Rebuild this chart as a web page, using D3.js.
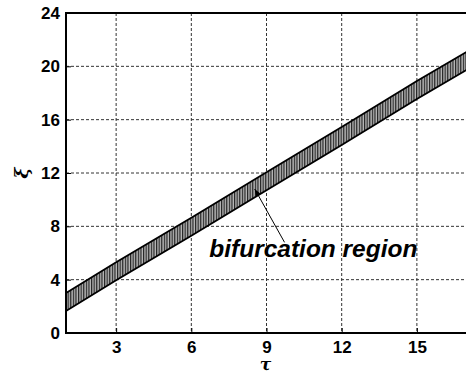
<!DOCTYPE html>
<html><head><meta charset="utf-8">
<script src="https://cdn.jsdelivr.net/npm/d3@7"></script>
<style>body{margin:0;background:#fff}svg{display:block}</style>
</head><body>
<script>
const tau = [1, 3, 6, 9, 12, 15, 17];
const upper = [3.0, 5.3, 8.65, 12.05, 15.45, 18.9, 21.1];
const lower = [1.65, 3.95, 7.3, 10.7, 14.1, 17.55, 19.75];
const xTicks = [3, 6, 9, 12, 15];
const yTicks = [0, 4, 8, 12, 16, 20, 24];
const labelText = "bifurcation region";
const labelPos = [6.72, 5.7];
const arrowTail = [9.72, 6.8];
const arrowTip = [8.53, 10.8];

const W = 466, H = 375;
const svg = d3.select("body").append("svg").attr("width", W).attr("height", H);
const x = d3.scaleLinear().domain([1, 17]).range([66, 467]);
const y = d3.scaleLinear().domain([0, 24]).range([333, 13]);

const defs = svg.append("defs");
const pat = defs.append("pattern").attr("id", "hatch").attr("patternUnits", "userSpaceOnUse")
  .attr("width", 2.6).attr("height", 10);
pat.append("rect").attr("width", 2.6).attr("height", 10).attr("fill", "#b8b8b8");
pat.append("line").attr("x1", 0.6).attr("x2", 0.6).attr("y1", 0).attr("y2", 10)
  .attr("stroke", "#222").attr("stroke-width", 1.2);
defs.append("clipPath").attr("id", "clip").append("rect")
  .attr("x", 66).attr("y", 13).attr("width", 401).attr("height", 320);

// grid
const g = svg.append("g");
g.selectAll(".vg").data(xTicks).join("line")
  .attr("x1", d => x(d)).attr("x2", d => x(d)).attr("y1", y(24)).attr("y2", y(0))
  .attr("stroke", "#333").attr("stroke-width", 1).attr("stroke-dasharray", "3,2");
g.selectAll(".hg").data(yTicks.filter(d => d > 0 && d < 24)).join("line")
  .attr("x1", x(1)).attr("x2", W).attr("y1", d => y(d)).attr("y2", d => y(d))
  .attr("stroke", "#333").attr("stroke-width", 1).attr("stroke-dasharray", "3,2");

// band
const pts = tau.map((t, i) => ({t, u: upper[i], l: lower[i]}));
const area = d3.area().x(d => x(d.t)).y0(d => y(d.l)).y1(d => y(d.u));
const band = svg.append("g").attr("clip-path", "url(#clip)");
band.append("path").datum(pts).attr("d", area).attr("fill", "url(#hatch)");
band.append("path").datum(pts).attr("d", d3.line().x(d => x(d.t)).y(d => y(d.u)))
  .attr("fill", "none").attr("stroke", "#000").attr("stroke-width", 1.8);
band.append("path").datum(pts).attr("d", d3.line().x(d => x(d.t)).y(d => y(d.l)))
  .attr("fill", "none").attr("stroke", "#000").attr("stroke-width", 1.8);

// axes
const xAxis = d3.axisBottom(x).tickValues(xTicks).tickSize(-5).tickPadding(8);
const yAxis = d3.axisLeft(y).tickValues(yTicks).tickSize(-5).tickPadding(6);
const xa = svg.append("g").attr("transform", `translate(0,${y(0)})`).call(xAxis);
const ya = svg.append("g").attr("transform", `translate(${x(1)},0)`).call(yAxis);
[xa, ya].forEach(a => {
  a.select(".domain").remove();
  a.selectAll(".tick line").attr("stroke", "#000").attr("stroke-width", 1);
  a.selectAll("text").attr("font-family", "Liberation Sans, Arial, sans-serif")
    .attr("font-size", 17).attr("font-weight", "bold").attr("fill", "#000");
});
svg.append("line").attr("x1", x(1)).attr("x2", W).attr("y1", y(0)).attr("y2", y(0)).attr("stroke", "#000").attr("stroke-width", 2);
svg.append("line").attr("x1", x(1)).attr("x2", W).attr("y1", y(24)).attr("y2", y(24)).attr("stroke", "#000").attr("stroke-width", 2);
svg.append("line").attr("x1", x(1)).attr("x2", x(1)).attr("y1", y(24) - 1).attr("y2", y(0) + 1).attr("stroke", "#000").attr("stroke-width", 2);

// axis labels
svg.append("text").attr("x", x(9) - 1).attr("y", 370).attr("text-anchor", "middle")
  .attr("font-family", "DejaVu Serif, serif").attr("font-style", "italic").attr("font-weight", "bold")
  .attr("font-size", 17).text("τ");
svg.append("text").attr("transform", `translate(28,${y(12)}) rotate(-90)`).attr("text-anchor", "middle")
  .attr("font-family", "DejaVu Serif, serif").attr("font-style", "italic").attr("font-weight", "bold")
  .attr("font-size", 19).text("ξ");

// annotation
defs.append("marker").attr("id", "arr").attr("viewBox", "0 0 10 10").attr("refX", 10).attr("refY", 5)
  .attr("markerWidth", 7).attr("markerHeight", 7).attr("orient", "auto")
  .append("path").attr("d", "M0,1 L10,5 L0,9 Z").attr("fill", "#000");
svg.append("line").attr("x1", x(arrowTail[0])).attr("y1", y(arrowTail[1]))
  .attr("x2", x(arrowTip[0])).attr("y2", y(arrowTip[1]))
  .attr("stroke", "#000").attr("stroke-width", 1).attr("marker-end", "url(#arr)");
svg.append("text").attr("x", x(labelPos[0])).attr("y", y(labelPos[1]))
  .attr("font-family", "Liberation Sans, Arial, sans-serif").attr("font-style", "italic")
  .attr("font-weight", "bold").attr("font-size", 23).attr("fill", "#000")
  .attr("textLength", 208).attr("lengthAdjust", "spacingAndGlyphs").text(labelText);
</script>
</body></html>
